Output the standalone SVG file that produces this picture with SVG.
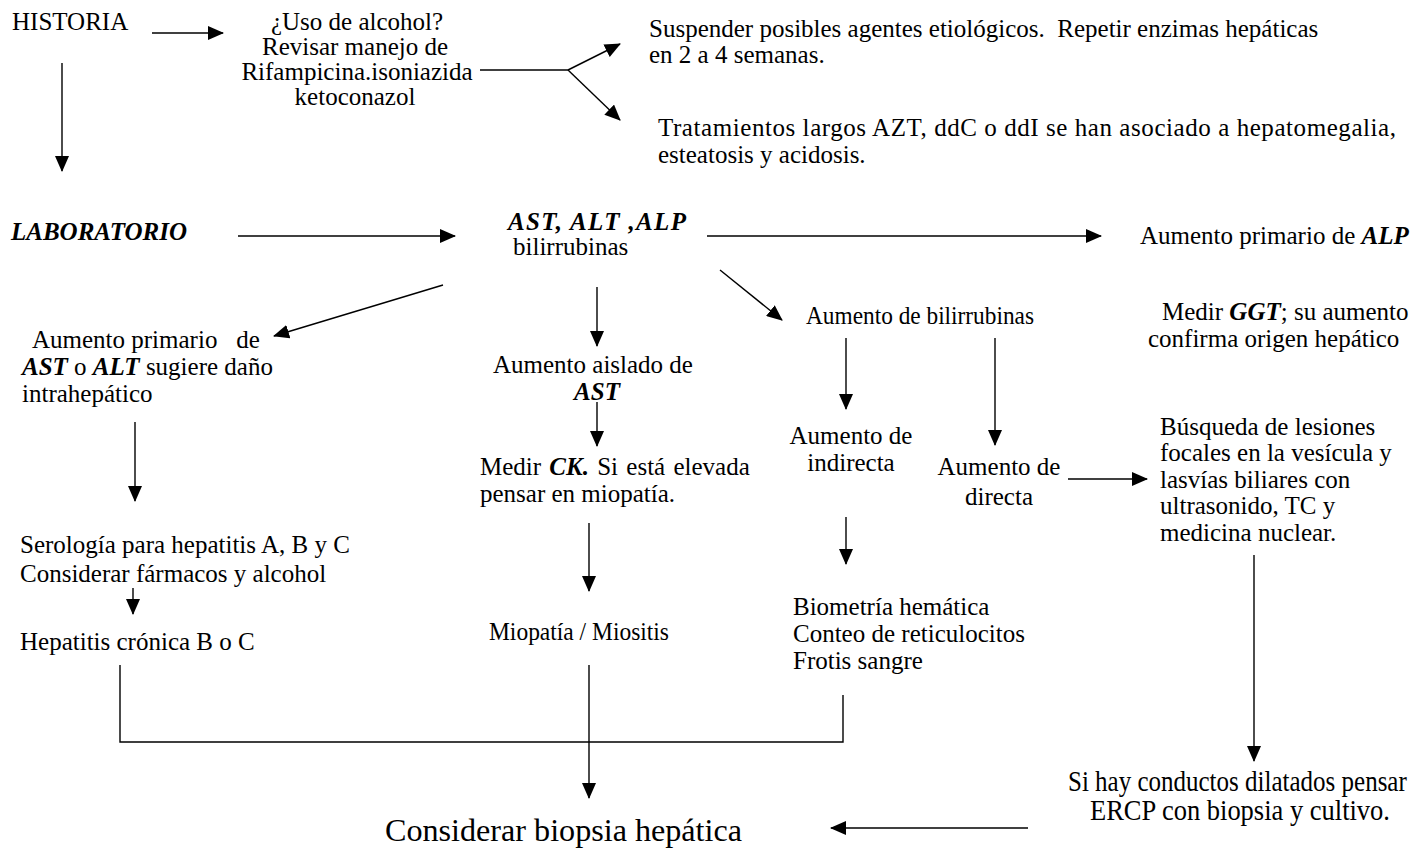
<svg xmlns="http://www.w3.org/2000/svg" width="1415" height="848" viewBox="0 0 1415 848">
  <style>
    text { font-family: "Liberation Serif", "Times New Roman", serif; font-size: 25px; fill: #000; }
    .b { font-weight: bold; font-style: italic; }
    .c { text-anchor: middle; }
    .big { font-size: 32px; }
    .edge { stroke: #000; stroke-width: 1.4; fill: none; }
    .arr { marker-end: url(#head); }
  </style>
  <defs>
    <marker id="head" markerUnits="userSpaceOnUse" markerWidth="16" markerHeight="14" refX="15" refY="7" orient="auto">
      <path d="M0,0 L16,7 L0,14 Z" fill="#000"/>
    </marker>
  </defs>

  <rect width="1415" height="848" fill="#fff"/>

  <!-- connectors -->
  <g id="connectors">
    <line class="edge arr" x1="152" y1="33" x2="223" y2="33"/>
    <line class="edge arr" x1="62" y1="63" x2="62" y2="171"/>
    <polyline class="edge" points="480,70 568,70"/>
    <line class="edge arr" x1="568" y1="70" x2="620" y2="44"/>
    <line class="edge arr" x1="568" y1="70" x2="620" y2="120"/>
    <line class="edge arr" x1="238" y1="236" x2="455" y2="236"/>
    <line class="edge arr" x1="707" y1="236" x2="1101" y2="236"/>
    <line class="edge arr" x1="443" y1="285" x2="274" y2="336"/>
    <line class="edge arr" x1="597" y1="287" x2="597" y2="346"/>
    <line class="edge arr" x1="720" y1="270" x2="782" y2="320"/>
    <line class="edge arr" x1="846" y1="338" x2="846" y2="409"/>
    <line class="edge arr" x1="995" y1="338" x2="995" y2="445"/>
    <line class="edge arr" x1="597" y1="402" x2="597" y2="446"/>
    <line class="edge arr" x1="135" y1="422" x2="135" y2="501"/>
    <line class="edge arr" x1="133" y1="588" x2="133" y2="614"/>
    <line class="edge arr" x1="589" y1="523" x2="589" y2="591"/>
    <line class="edge arr" x1="846" y1="517" x2="846" y2="564"/>
    <line class="edge arr" x1="1068" y1="479" x2="1147" y2="479"/>
    <line class="edge arr" x1="1254" y1="555" x2="1254" y2="761"/>
    <polyline class="edge" points="120,665 120,742 843,742 843,695"/>
    <line class="edge arr" x1="589" y1="665" x2="589" y2="798"/>
    <line class="edge arr" x1="1028" y1="828" x2="831" y2="828"/>
  </g>

  <g id="historia"><text x="12" y="30">HISTORIA</text></g>
  <g id="uso-alcohol">
    <text class="c" x="357" y="30">¿Uso de alcohol?</text>
    <text class="c" x="355" y="55">Revisar manejo de</text>
    <text class="c" x="357" y="80">Rifampicina.isoniazida</text>
    <text class="c" x="355" y="105">ketoconazol</text>
  </g>
  <g id="suspender">
    <text x="649" y="37" xml:space="preserve">Suspender posibles agentes etiológicos.  Repetir enzimas hepáticas</text>
    <text x="649" y="63">en 2 a 4 semanas.</text>
  </g>
  <g id="tratamientos">
    <text x="658" y="136" textLength="738" lengthAdjust="spacing">Tratamientos largos AZT, ddC o ddI se han asociado a hepatomegalia,</text>
    <text x="658" y="163">esteatosis y acidosis.</text>
  </g>
  <g id="laboratorio"><text class="b" x="11" y="240">LABORATORIO</text></g>
  <g id="enzimas">
    <text class="b" x="508" y="230" textLength="178" lengthAdjust="spacing">AST, ALT ,ALP</text>
    <text x="513" y="255">bilirrubinas</text>
  </g>
  <g id="alp"><text x="1140" y="244">Aumento primario de <tspan class="b">ALP</tspan></text></g>
  <g id="ggt">
    <text x="1162" y="320">Medir <tspan class="b">GGT</tspan>; su aumento</text>
    <text x="1148" y="347">confirma origen hepático</text>
  </g>
  <g id="ast-alt">
    <text x="32" y="348" xml:space="preserve">Aumento primario   de</text>
    <text x="22" y="375"><tspan class="b">AST</tspan> o <tspan class="b">ALT</tspan> sugiere daño</text>
    <text x="22" y="402">intrahepático</text>
  </g>
  <g id="aislado">
    <text class="c" x="593" y="373">Aumento aislado de</text>
    <text class="c b" x="597" y="400">AST</text>
  </g>
  <g id="bilirrubinas"><text x="806" y="324" textLength="228" lengthAdjust="spacingAndGlyphs">Aumento de bilirrubinas</text></g>
  <g id="ck">
    <text x="480" y="475" word-spacing="2">Medir <tspan class="b">CK.</tspan> Si está elevada</text>
    <text x="480" y="502">pensar en miopatía.</text>
  </g>
  <g id="indirecta">
    <text class="c" x="851" y="444">Aumento de</text>
    <text class="c" x="851" y="471">indirecta</text>
  </g>
  <g id="directa">
    <text class="c" x="999" y="475">Aumento de</text>
    <text class="c" x="999" y="505">directa</text>
  </g>
  <g id="busqueda">
    <text x="1160" y="435">Búsqueda de lesiones</text>
    <text x="1160" y="461">focales en la vesícula y</text>
    <text x="1160" y="488">lasvías biliares con</text>
    <text x="1160" y="514">ultrasonido, TC y</text>
    <text x="1160" y="541">medicina nuclear.</text>
  </g>
  <g id="serologia">
    <text x="20" y="553">Serología para hepatitis A, B y C</text>
    <text x="20" y="582">Considerar fármacos y alcohol</text>
  </g>
  <g id="hepatitis"><text x="20" y="650">Hepatitis crónica B o C</text></g>
  <g id="miopatia"><text x="489" y="640" textLength="180" lengthAdjust="spacingAndGlyphs">Miopatía / Miositis</text></g>
  <g id="biometria">
    <text x="793" y="615">Biometría hemática</text>
    <text x="793" y="642">Conteo de reticulocitos</text>
    <text x="793" y="669">Frotis sangre</text>
  </g>
  <g id="ercp">
    <text transform="translate(1068 791) scale(1 1.15)" x="0" y="0">Si hay conductos dilatados pensar</text>
    <text transform="translate(1240 820) scale(1 1.15)" class="c" x="0" y="0" textLength="300" lengthAdjust="spacingAndGlyphs">ERCP con biopsia y cultivo.</text>
  </g>
  <g id="biopsia"><text class="big" x="385" y="841" textLength="357" lengthAdjust="spacingAndGlyphs">Considerar biopsia hepática</text></g>
</svg>
